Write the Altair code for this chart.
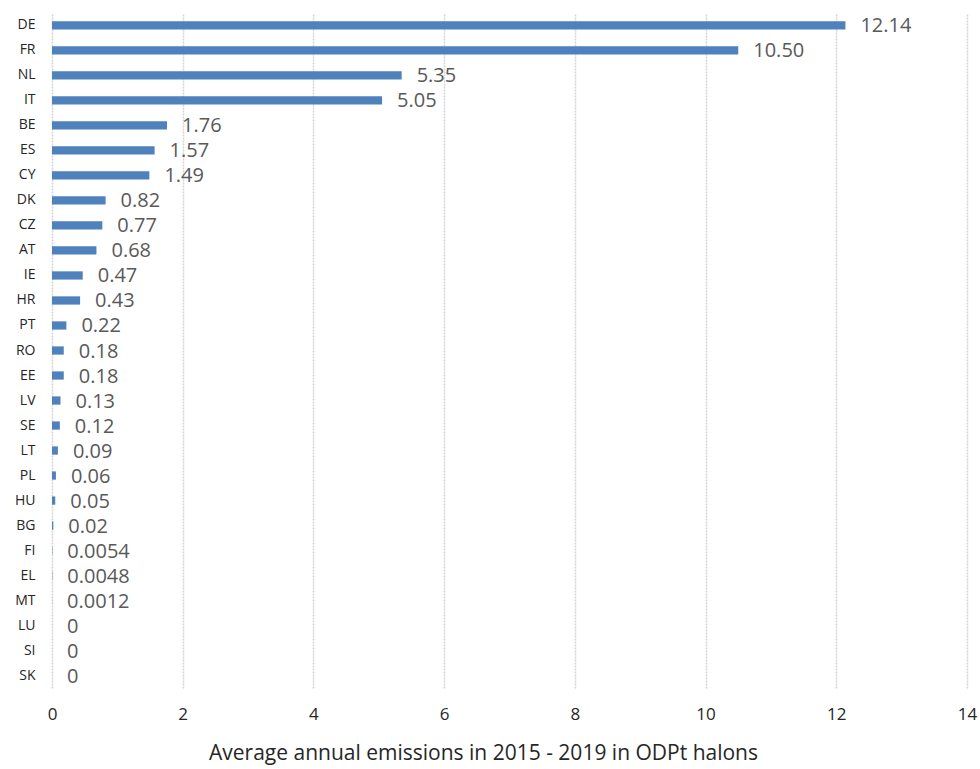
import altair as alt
import pandas as pd

countries = ["DE", "FR", "NL", "IT", "BE", "ES", "CY", "DK", "CZ", "AT", "IE", "HR", "PT",
             "RO", "EE", "LV", "SE", "LT", "PL", "HU", "BG", "FI", "EL", "MT", "LU", "SI", "SK"]
emissions = [12.14, 10.50, 5.35, 5.05, 1.76, 1.57, 1.49, 0.82, 0.77, 0.68, 0.47, 0.43, 0.22,
             0.18, 0.18, 0.13, 0.12, 0.09, 0.06, 0.05, 0.02, 0.0054, 0.0048, 0.0012, 0, 0, 0]
labels = ["12.14", "10.50", "5.35", "5.05", "1.76", "1.57", "1.49", "0.82", "0.77", "0.68",
          "0.47", "0.43", "0.22", "0.18", "0.18", "0.13", "0.12", "0.09", "0.06", "0.05",
          "0.02", "0.0054", "0.0048", "0.0012", "0", "0", "0"]

df = pd.DataFrame({"country": countries, "value": emissions, "label": labels})

FONT = "Open Sans"

x_enc = alt.X(
    "value:Q",
    scale=alt.Scale(domain=[0, 14], nice=False),
    axis=alt.Axis(
        values=list(range(0, 15, 2)), format="d", labelFlush=False,
        title="Average annual emissions in 2015 - 2019 in ODPt halons",
        titleFont=FONT, titleFontSize=21, titleFontWeight="normal", titleColor="#262626",
        titlePadding=20, titleX=431, titleAnchor="middle",
        labelFont=FONT, labelFontSize=17, labelColor="#262626", labelPadding=18,
        tickSize=0, domain=False,
        grid=True, gridColor="#d4d4d4", gridDash=[2, 1], gridWidth=1.5,
    ),
)
y_enc = alt.Y(
    "country:N",
    sort=countries,
    scale=alt.Scale(paddingInner=0.67, paddingOuter=0.33),
    axis=alt.Axis(
        title=None, labelFont=FONT, labelFontSize=14, labelColor="#262626",
        labelPadding=17, tickSize=0, domain=False, grid=False,
    ),
)

bars = alt.Chart(df).mark_bar(color="#4F81BD").encode(x=x_enc, y=y_enc)

texts = alt.Chart(df).mark_text(
    align="left", baseline="middle", dx=15, dy=1, font=FONT, fontSize=20, color="#595959"
).encode(x="value:Q", y=alt.Y("country:N", sort=countries), text="label:N")

chart = (
    alt.layer(bars, texts)
    .properties(
        width=915, height=675,
        autosize=alt.AutoSizeParams(type="none"),
        padding={"left": 52, "top": 13, "right": 13, "bottom": 81},
    )
    .configure_view(stroke=None)
)

chart.save("out.html", embed_options={"renderer": "svg", "actions": False})
